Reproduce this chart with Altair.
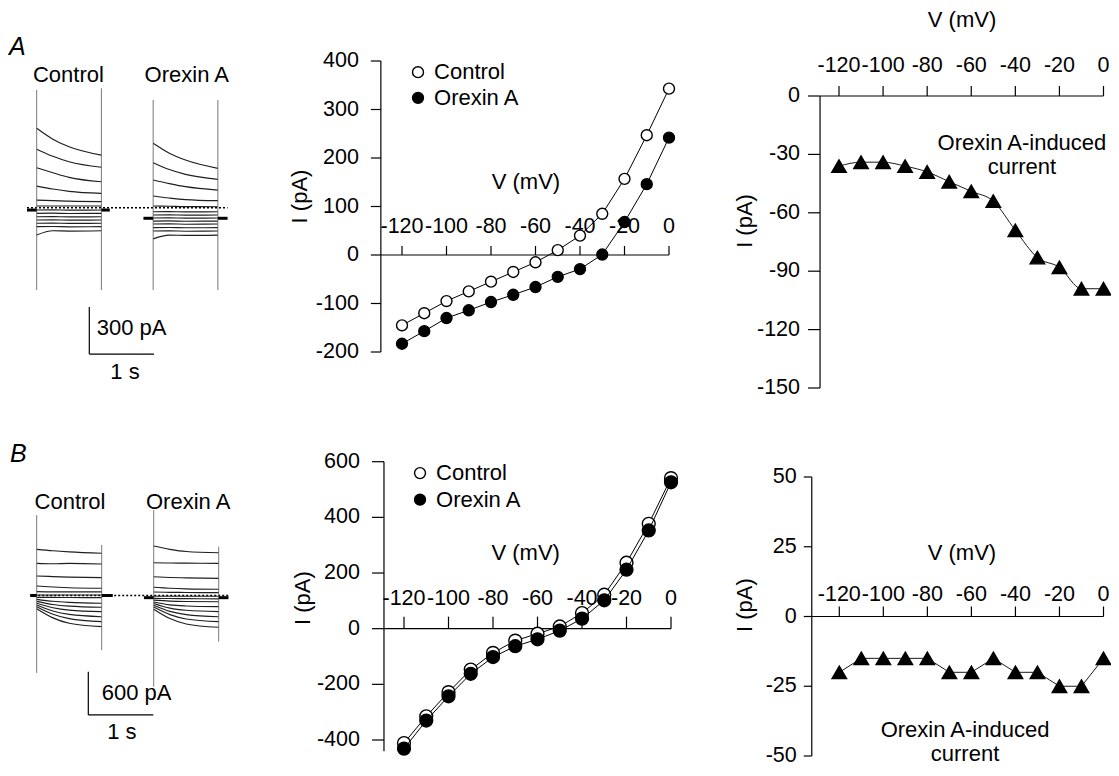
import altair as alt
import pandas as pd

# ---------------- values ----------------
V = [-120, -110, -100, -90, -80, -70, -60, -50, -40, -30, -20, -10, 0]

A_CONTROL = [-145, -120, -95, -75, -55, -35, -15, 10, 40, 85, 157, 247, 343]
A_OREXIN = [-183, -157, -130, -114, -97, -82, -66, -45, -29, 1, 68, 146, 242]
A_INDUCED = [-36, -34, -34, -36, -39, -44, -49, -54, -69, -83, -88, -99, -99]

B_CONTROL = [-411, -315, -228, -147, -87, -43, -18, 8, 56, 122, 237, 377, 541]
B_OREXIN = [-431, -330, -243, -162, -102, -63, -38, -7, 36, 102, 212, 353, 526]
B_INDUCED = [-20, -15, -15, -15, -15, -20, -20, -15, -20, -20, -25, -25, -15]

TICKS_V = [-120, -100, -80, -60, -40, -20, 0]
TICKS_I_A = [-200, -100, 0, 100, 200, 300, 400]
TICKS_D_A = [-150, -120, -90, -60, -30, 0]
TICKS_I_B = [-400, -200, 0, 200, 400, 600]
TICKS_D_B = [-50, -25, 0, 25, 50]

# current traces (pA relative to holding level) at these times (s) of a 1 s step
TRACE_T = [0.0, 0.25, 0.5, 1.0]
A_CTRL_TRACES = [
    [510, 440, 392, 338], [376, 330, 295, 260], [257, 225, 195, 167],
    [139, 120, 105, 92], [49, 45, 42, 39], [11, 11, 11, 11],
    [-15, -14, -16, -15], [-36, -35, -37, -36], [-58, -57, -59, -58],
    [-79, -78, -80, -79], [-100, -99, -101, -100], [-122, -121, -123, -122],
    [-175, -148, -150, -148],
]
A_ORX_TRACES = [
    [414, 350, 306, 253], [289, 245, 214, 182], [178, 155, 135, 113],
    [75, 62, 52, 45], [11, 9, 7, 6], [-26, -25, -27, -26],
    [-47, -46, -48, -47], [-66, -65, -67, -66], [-86, -85, -87, -86],
    [-105, -104, -106, -105], [-128, -127, -129, -128], [-150, -149, -151, -150],
    [-200, -176, -178, -176],
]
B_CTRL_TRACES = [
    [640, 620, 605, 585], [446, 440, 445, 436], [270, 262, 255, 247],
    [132, 118, 108, 100], [53, 50, 50, 50], [7, 7, 7, 7],
    [-25, -27, -28, -30], [-53, -80, -95, -108], [-81, -125, -148, -163],
    [-108, -170, -203, -224], [-131, -215, -262, -294], [-155, -260, -320, -363],
    [-183, -310, -385, -432],
]
B_ORX_TRACES = [
    [686, 640, 610, 593], [454, 450, 448, 446], [260, 250, 244, 238],
    [114, 100, 92, 86], [48, 44, 42, 40], [-10, -10, -10, -10],
    [-40, -42, -44, -46], [-65, -78, -83, -86], [-90, -130, -145, -155],
    [-110, -175, -205, -224], [-135, -220, -265, -294], [-160, -265, -325, -363],
    [-190, -320, -395, -440],
]

# ---------------- layout ----------------
W, H, M = 1103, 760, 8
FONT = "Liberation Sans"
TXT = 22
TCK = 21.5


def dom(va, pa, vb, pb, size):
    k = (pb - pa) / (vb - va)
    return sorted([va + (M - pa) / k, va + (size + M - pa) / k])


class Panel:
    def __init__(self, xmap, ymap):
        self.xs = alt.Scale(domain=dom(*xmap, W), nice=False, zero=False)
        self.ys = alt.Scale(domain=dom(*ymap, H), nice=False, zero=False)
        self.layers = []

    def X(self, f="x"):
        return alt.X(f, type="quantitative", scale=self.xs, axis=None)

    def Y(self, f="y"):
        return alt.Y(f, type="quantitative", scale=self.ys, axis=None)

    def rule(self, rows, **style):
        df = pd.DataFrame(rows)
        enc = {"x": self.X(), "y": self.Y()}
        if "x2" in df:
            enc["x2"] = alt.X2("x2")
        if "y2" in df:
            enc["y2"] = alt.Y2("y2")
        style.setdefault("color", "black")
        self.layers.append(alt.Chart(df).mark_rule(**style).encode(**enc))

    def points(self, rows, **style):
        self.layers.append(
            alt.Chart(pd.DataFrame(rows)).mark_point(opacity=1, **style)
            .encode(x=self.X(), y=self.Y())
        )

    def line(self, rows, detail=None, **style):
        enc = {"x": self.X(), "y": self.Y()}
        if detail:
            enc["detail"] = alt.Detail(detail, type="nominal")
        self.layers.append(alt.Chart(pd.DataFrame(rows)).mark_line(**style).encode(**enc))

    def text(self, rows, **style):
        style.setdefault("font", FONT)
        style.setdefault("fontSize", TXT)
        style.setdefault("color", "black")
        self.layers.append(
            alt.Chart(pd.DataFrame(rows)).mark_text(**style)
            .encode(x=self.X(), y=self.Y(), text=alt.Text("t", type="nominal"))
        )

    def build(self):
        return alt.layer(*self.layers)


def iv_axes(p, xmin, ylo, yhi, yticks, ytl, ydx, xtl, xdy):
    p.rule([{"x": xmin, "y": ylo, "y2": yhi}], strokeWidth=1.2)
    p.rule([{"x": xmin, "x2": 0, "y": 0}], strokeWidth=1.2)
    p.points([{"x": xmin, "y": v} for v in yticks], shape="M-1,0L0,0",
             size=4 * ytl * ytl, filled=False, color="black", strokeWidth=1.2)
    p.text([{"x": xmin, "y": v, "t": str(v)} for v in yticks], align="right",
           baseline="middle", dx=ydx, fontSize=TCK)
    p.points([{"x": v, "y": 0} for v in TICKS_V], shape="M0,-1L0,0",
             size=4 * xtl * xtl, filled=False, color="black", strokeWidth=1.2)
    p.text([{"x": v, "y": 0, "t": str(v)} for v in TICKS_V], align="center",
           baseline="alphabetic", dy=xdy, fontSize=TCK)


def series(p, vals, shape, fill, size, interp="linear", sw=1.0):
    rows = [{"x": v, "y": i} for v, i in zip(V, vals)]
    p.line(rows, color="black", strokeWidth=sw, interpolate=interp)
    p.points(rows, shape=shape, filled=True, fill=fill, stroke="black",
             strokeWidth=1.4, size=size)


def titles(p, vx, vy, ix, iy):
    p.text([{"x": vx, "y": vy, "t": "V (mV)"}], align="center", baseline="middle")
    p.text([{"x": ix, "y": iy, "t": "I (pA)"}], align="center", baseline="middle", angle=270)


def legend(p, x, y1, y2, size):
    p.points([{"x": x, "y": y1}], shape="circle", filled=True, fill="white",
             stroke="black", strokeWidth=1.4, size=size)
    p.points([{"x": x, "y": y2}], shape="circle", filled=True, fill="black",
             stroke="black", strokeWidth=1.4, size=size)
    p.text([{"x": x, "y": y1, "t": "Control"}, {"x": x, "y": y2, "t": "Orexin A"}],
           align="left", baseline="middle", dx=16)


def traces(p, ctrl, orx, off):
    rows = []
    for k, tr in enumerate(ctrl):
        rows += [{"x": t, "y": v, "id": f"c{k}"} for t, v in zip(TRACE_T, tr)]
    for k, tr in enumerate(orx):
        rows += [{"x": t + off, "y": v, "id": f"o{k}"} for t, v in zip(TRACE_T, tr)]
    p.line(rows, detail="id", color="#1e1e1e", strokeWidth=1.15, interpolate="monotone")


OFF = 1.8

# ---- A: traces ----
trA = Panel((0, 36.7, 1, 101.4), (0, 207.7, 300, 161.0))
trA.rule([{"x": -0.15, "x2": 2.95, "y": 0}], strokeWidth=1.5, strokeDash=[2, 2])
traces(trA, A_CTRL_TRACES, A_ORX_TRACES, OFF)
trA.rule([{"x": 0, "y": 756, "y2": -529}, {"x": 1.0, "y": 767, "y2": -529},
          {"x": OFF, "y": 692, "y2": -529}, {"x": OFF + 1.0, "y": 692, "y2": -529}],
         color="#555", strokeWidth=0.8)
trA.rule([{"x": -0.15, "x2": 0, "y": -15}, {"x": 1.0, "x2": 1.13, "y": -15},
          {"x": OFF - 0.15, "x2": OFF, "y": -68}, {"x": OFF + 1.0, "x2": OFF + 1.15, "y": -68}],
         strokeWidth=3)
trA.rule([{"x": 0.813, "y": -638, "y2": -940}, {"x": 0.813, "x2": 1.813, "y": -940}],
         strokeWidth=1.2)
trA.text([{"x": 0.927, "y": -773, "t": "300 pA"}], align="left", baseline="middle")
trA.text([{"x": 1.365, "y": -1056, "t": "1 s"}], align="center", baseline="middle")
trA.text([{"x": 0.49, "y": 853, "t": "Control"}, {"x": 2.32, "y": 853, "t": "Orexin A"}],
         align="center", baseline="middle")
trA.text([{"x": -0.43, "y": 981, "t": "A"}], align="left", baseline="alphabetic",
         fontSize=25, fontStyle="italic")

# ---- B: traces ----
trB = Panel((0, 36.7, 1, 101.7), (0, 595.5, 600, 552.2))
trB.rule([{"x": -0.1, "x2": 2.95, "y": 0}], strokeWidth=1.5, strokeDash=[2, 2])
traces(trB, B_CTRL_TRACES, B_ORX_TRACES, OFF)
trB.rule([{"x": 0, "y": 1115, "y2": -1073}, {"x": 1.0, "y": 700, "y2": -755},
          {"x": OFF, "y": 1184, "y2": -1263}, {"x": OFF + 1.0, "y": 676, "y2": -640}],
         color="#555", strokeWidth=0.8)
trB.rule([{"x": -0.1, "x2": 0, "y": 0}, {"x": 1.0, "x2": 1.17, "y": 0},
          {"x": OFF - 0.15, "x2": OFF, "y": -30}, {"x": OFF + 1.0, "x2": OFF + 1.15, "y": -30}],
         strokeWidth=3)
trB.rule([{"x": 0.794, "y": -1055, "y2": -1655}, {"x": 0.794, "x2": 1.794, "y": -1655}],
         strokeWidth=1.2)
trB.text([{"x": 1.0, "y": -1350, "t": "600 pA"}], align="left", baseline="middle")
trB.text([{"x": 1.31, "y": -1886, "t": "1 s"}], align="center", baseline="middle")
trB.text([{"x": 0.512, "y": 1299, "t": "Control"}, {"x": 2.33, "y": 1299, "t": "Orexin A"}],
         align="center", baseline="middle")
trB.text([{"x": -0.41, "y": 1853, "t": "B"}], align="left", baseline="alphabetic",
         fontSize=25, fontStyle="italic")

# ---- A: I-V ----
midA = Panel((-120, 402, 0, 669), (400, 61, -200, 352))
iv_axes(midA, -129.5, -200, 400, TICKS_I_A, 10, -22, 9, -22)
titles(midA, -64.3, 150.5, -165.8, 120.6)
series(midA, A_CONTROL, "circle", "white", 120)
series(midA, A_OREXIN, "circle", "black", 120)
legend(midA, -112.8, 377, 324, 120)

# ---- A: induced ----
rightA = Panel((-120, 839, 0, 1103.5), (0, 96, -150, 388))
iv_axes(rightA, -128.6, -150, 0, TICKS_D_A, 12, -20, 10, -24)
titles(rightA, -64.2, 39.0, -162.6, -64.2)
rightA.text([{"x": -37.0, "y": -24.1, "t": "Orexin A-induced"},
             {"x": -37.0, "y": -36.5, "t": "current"}], align="center", baseline="middle")
series(rightA, A_INDUCED, "triangle-up", "black", 210, "monotone", 0.9)

# ---- B: I-V ----
midB = Panel((-120, 404, 0, 671), (600, 461.7, -400, 740))
iv_axes(midB, -129, -440, 600, TICKS_I_B, 12, -24, 12, -24)
titles(midB, -65.3, 272, -165.4, 109.6)
series(midB, B_CONTROL, "circle", "white", 165)
series(midB, B_OREXIN, "circle", "black", 165)
legend(midB, -112.8, 559, 463.5, 120)

# ---- B: induced ----
rightB = Panel((-120, 839.3, 0, 1103.5), (50, 477, -50, 756))
iv_axes(rightB, -132.5, -50, 50, TICKS_D_B, 8, -15, 10, -16)
titles(rightB, -64.3, 22.8, -162.8, 4.1)
rightB.text([{"x": -62.9, "y": -40.7, "t": "Orexin A-induced"},
             {"x": -62.9, "y": -49.3, "t": "current"}], align="center", baseline="middle")
series(rightB, B_INDUCED, "triangle-up", "black", 210, "linear", 0.9)

chart = (
    alt.layer(*[p.build() for p in (trA, trB, midA, rightA, midB, rightB)])
    .resolve_scale(x="independent", y="independent")
    .properties(width=W, height=H, padding=0,
                autosize=alt.AutoSizeParams(type="none"))
    .configure_view(stroke=None)
)

chart.save("out.html", embed_options={"renderer": "svg", "actions": False})
